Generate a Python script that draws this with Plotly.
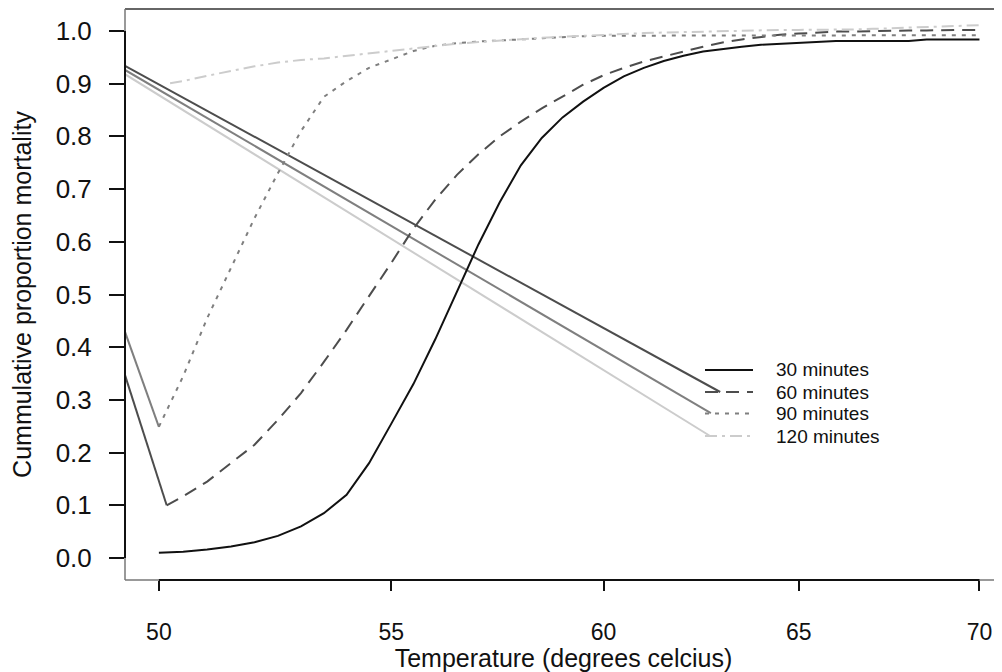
import math
import plotly.graph_objects as go

# ---------------- data ----------------
temp_grid = [50.0, 50.5, 51.0, 51.5, 52.0, 52.5, 53.0, 53.5, 54.0, 54.5,
             55.0, 55.5, 56.0, 56.5, 57.0, 57.5, 58.0, 58.5, 59.0, 59.5,
             60.0, 60.5, 61.0, 61.5, 62.0, 62.5, 63.0, 63.5, 64.0, 64.5,
             65.0, 65.5, 66.0, 66.5, 67.0, 67.5, 68.0, 68.5, 69.0, 69.5, 70.0]

mort_30 = [0.010, 0.012, 0.016, 0.022, 0.030, 0.042, 0.060, 0.085, 0.120, 0.180,
           0.255, 0.330, 0.415, 0.505, 0.595, 0.675, 0.745, 0.797, 0.836, 0.866,
           0.892, 0.914, 0.930, 0.943, 0.953, 0.961, 0.966, 0.970, 0.974, 0.976,
           0.978, 0.980, 0.981, 0.981, 0.981, 0.981, 0.981, 0.984, 0.984, 0.984, 0.984]

start_60 = 50.16
mort_60 = [0.100, 0.117, 0.145, 0.180, 0.215, 0.262, 0.313, 0.372, 0.433, 0.497,
           0.560, 0.625, 0.680, 0.727, 0.766, 0.800, 0.828, 0.853, 0.875, 0.898,
           0.916, 0.930, 0.942, 0.952, 0.961, 0.970, 0.978, 0.984, 0.989, 0.993,
           0.995, 0.997, 0.999, 0.999, 1.000, 1.000, 1.001, 1.001, 1.002, 1.002, 1.002]

start_90 = 50.0
mort_90 = [0.249, 0.345, 0.455, 0.550, 0.645, 0.730, 0.810, 0.875, 0.905, 0.930,
           0.946, 0.962, 0.972, 0.977, 0.980, 0.982, 0.985, 0.987, 0.989, 0.990,
           0.991, 0.991, 0.991, 0.991, 0.991, 0.991, 0.991, 0.992, 0.992, 0.992,
           0.992, 0.992, 0.992, 0.992, 0.992, 0.992, 0.992, 0.992, 0.992, 0.992, 0.992]

start_120 = 50.23
mort_120 = [0.901, 0.905, 0.915, 0.924, 0.933, 0.940, 0.945, 0.948, 0.953, 0.958,
            0.962, 0.967, 0.972, 0.976, 0.979, 0.982, 0.985, 0.987, 0.989, 0.991,
            0.993, 0.995, 0.996, 0.997, 0.998, 0.999, 1.000, 1.001, 1.001, 1.002,
            1.002, 1.002, 1.002, 1.003, 1.004, 1.005, 1.007, 1.008, 1.009, 1.010, 1.011]

# stray straight segments visible in the original figure (solid, series colours)
long_seg_x = {"60": [49.31, 62.94], "90": [49.31, 62.70], "120": [49.31, 62.68]}
long_seg_y = {"60": [0.934, 0.315], "90": [0.926, 0.275], "120": [0.918, 0.2315]}
short_seg_x = {"60": [49.31, 50.16], "90": [49.31, 50.0]}
short_seg_y = {"60": [0.347, 0.100], "90": [0.429, 0.249]}

series_keys = ["30", "60", "90", "120"]
series_names = ["30 minutes", "60 minutes", "90 minutes", "120 minutes"]
x_ticks = [50, 55, 60, 65, 70]
y_ticks = [0.0, 0.1, 0.2, 0.3, 0.4, 0.5, 0.6, 0.7, 0.8, 0.9, 1.0]

# ---------------- styling ----------------
colors = {"30": "#111111", "60": "#4d4d4d", "90": "#7f7f7f", "120": "#cccccc"}
dashes = {"30": "solid", "60": "13px,8px", "90": "4px,6px", "120": "12px,5px,3px,5px"}
FONT = "Liberation Sans, Arial, Helvetica, sans-serif"
INK = "#111111"

x_lo, x_hi = 49.31, 70.65
y_lo, y_hi = -0.0417, 1.0417

# page has an 8px body margin: figure is drawn from (8, 8)
W, H = 994, 664
ML, MT, MB, MR = 117, 1, 92, 0
plot_w = W - ML - MR
plot_h = H - MT - MB

fig = go.Figure()

# stray segments
for k in ["60", "90", "120"]:
    fig.add_trace(go.Scatter(x=long_seg_x[k], y=long_seg_y[k], mode="lines",
                             line=dict(color=colors[k], width=2), showlegend=False,
                             hoverinfo="skip"))
for k in ["60", "90"]:
    fig.add_trace(go.Scatter(x=short_seg_x[k], y=short_seg_y[k], mode="lines",
                             line=dict(color=colors[k], width=2), showlegend=False,
                             hoverinfo="skip"))

series = [
    ("30", [temp_grid[0]] + temp_grid[1:], mort_30),
    ("60", [start_60] + temp_grid[1:], mort_60),
    ("90", [start_90] + temp_grid[1:], mort_90),
    ("120", [start_120] + temp_grid[1:], mort_120),
]
for (k, xs, ys), name in zip(series, series_names):
    fig.add_trace(go.Scatter(x=xs, y=ys, mode="lines", name=name, showlegend=False,
                             line=dict(color=colors[k], width=2, dash=dashes[k])))

lx0, lx1 = math.log10(x_lo), math.log10(x_hi)
def xpaper(v):
    return (math.log10(v) - lx0) / (lx1 - lx0)
def ypaper(v):
    return (v - y_lo) / (y_hi - y_lo)
def px_to_paper_x(px):   # page pixel -> paper
    return (px - 8 - ML) / plot_w
def px_to_paper_y(py):
    return (MT + plot_h - (py - 8)) / plot_h

shapes = [
    dict(type="line", xref="paper", yref="paper", x0=0, x1=1, y0=1, y1=1,
         line=dict(color="#333333", width=1.5)),
    dict(type="line", xref="paper", yref="paper", x0=0, x1=1, y0=0, y1=0,
         line=dict(color="#777777", width=1.5)),
    dict(type="line", xref="paper", yref="paper", x0=0, x1=0, y0=0, y1=1,
         line=dict(color="#777777", width=1.5)),
    dict(type="line", xref="paper", yref="paper", x0=xpaper(x_ticks[0]), x1=xpaper(x_ticks[-1]),
         y0=0, y1=0, line=dict(color=INK, width=2)),
    dict(type="line", xref="paper", yref="paper", x0=0, x1=0,
         y0=ypaper(y_ticks[0]), y1=ypaper(y_ticks[-1]), line=dict(color=INK, width=2)),
]

# hand-built legend (line samples + labels), placed like the original
legend_rows_py = [370, 392, 413.5, 436]
annotations = []
for k, name, py in zip(series_keys, series_names, legend_rows_py):
    yy = px_to_paper_y(py)
    shapes.append(dict(type="line", xref="paper", yref="paper",
                       x0=px_to_paper_x(705), x1=px_to_paper_x(753), y0=yy, y1=yy,
                       line=dict(color=colors[k], width=2, dash=dashes[k])))
    annotations.append(dict(text=name, xref="paper", yref="paper",
                            x=px_to_paper_x(774), y=yy, xanchor="left", yanchor="middle",
                            showarrow=False,
                            font=dict(size=19, family=FONT, color=INK)))

fig.update_layout(
    width=W, height=H,
    margin=dict(l=ML, r=MR, t=MT, b=MB, pad=0),
    paper_bgcolor="white", plot_bgcolor="white",
    font=dict(family=FONT, color=INK),
    shapes=shapes,
    annotations=annotations,
    showlegend=False,
    xaxis=dict(type="log", range=[lx0, lx1], tickvals=x_ticks,
               ticktext=[str(v) for v in x_ticks],
               ticks="outside", ticklen=10, tickwidth=1.5, tickcolor=INK,
               showgrid=False, zeroline=False, showline=False,
               tickfont=dict(size=23, family=FONT, color=INK),
               ticklabelstandoff=21,
               title=dict(text="Temperature (degrees celcius)", standoff=3,
                          font=dict(size=25, family=FONT, color=INK))),
    yaxis=dict(range=[y_lo, y_hi], tickvals=y_ticks,
               ticktext=[f"{v:.1f}" for v in y_ticks],
               ticks="outside", ticklen=15, tickwidth=1.5, tickcolor=INK,
               showgrid=False, zeroline=False, showline=False,
               tickfont=dict(size=26, family=FONT, color=INK),
               ticklabelstandoff=12,
               title=dict(text="Cummulative proportion mortality", standoff=23,
                          font=dict(size=25, family=FONT, color=INK))),
)

fig.write_html("out.html")
